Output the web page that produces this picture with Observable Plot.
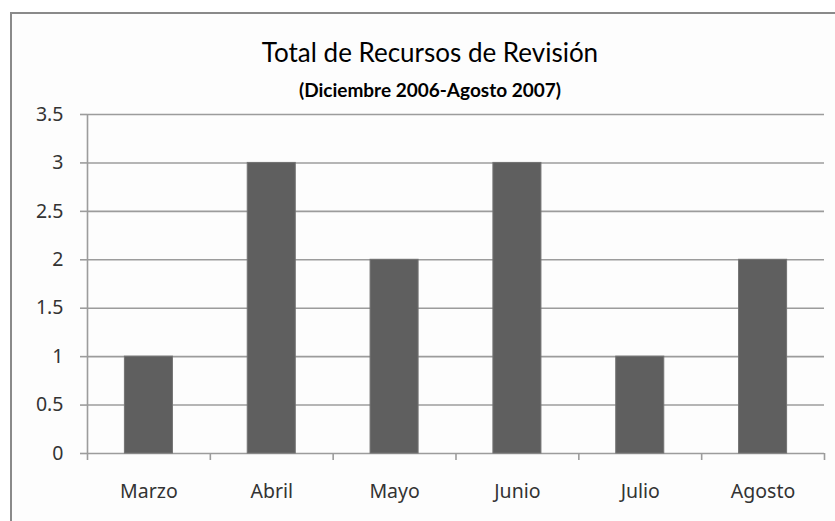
<!DOCTYPE html>
<html>
<head>
<meta charset="utf-8">
<script src="https://cdn.jsdelivr.net/npm/d3@7"></script>
<script src="https://cdn.jsdelivr.net/npm/@observablehq/plot@0.6"></script>
<style>
  html, body { margin: 0; padding: 0; background: #ffffff; width: 835px; height: 521px; overflow: hidden; }
  #wrap { position: relative; width: 835px; height: 521px; }
  #frame { position: absolute; left: 10px; top: 12px; width: 840px; height: 520px;
           border-left: 2px solid #8a8a8a; border-top: 2px solid #8a8a8a; background: #fdfdfd; }
  #chart { position: absolute; left: 0; top: 0; }
  .t { position: absolute; left: 10px; width: 840px; text-align: center; font-family: Lato, "Noto Sans", sans-serif; color: #000; line-height: 1; white-space: nowrap; }
  #title { top: 39px; font-size: 26px; }
  #subtitle { top: 80px; font-size: 19px; font-weight: bold; }
</style>
</head>
<body>
<div id="wrap">
  <div id="frame"></div>
  <div id="chart"></div>
  <div class="t" id="title">Total de Recursos de Revisión</div>
  <div class="t" id="subtitle">(Diciembre 2006-Agosto 2007)</div>
</div>
<script>
const months = ["Marzo", "Abril", "Mayo", "Junio", "Julio", "Agosto"];
const recursos = [1, 3, 2, 3, 1, 2];
const yTicks = [0, 0.5, 1, 1.5, 2, 2.5, 3, 3.5];

const data = months.map((m, i) => ({month: m, i, value: recursos[i]}));
const boundaries = d3.range(months.length + 1);
const centers = months.map((m, i) => i + 0.5);

const chart = Plot.plot({
  width: 835,
  height: 521,
  marginLeft: 87,
  marginRight: 11,
  marginTop: 114,
  marginBottom: 68,
  style: {background: "transparent", fontFamily: "'Noto Sans', sans-serif", color: "#333"},
  x: {type: "linear", domain: [0, months.length]},
  y: {domain: [0, 3.5]},
  marks: [
    Plot.gridY(yTicks, {stroke: "#9c9c9c", strokeOpacity: 1, strokeWidth: 1.6}),
    Plot.axisY(yTicks, {tickSize: 7, tickPadding: 17, stroke: "#9c9c9c", strokeWidth: 1.6, fill: "#333",
      fontSize: 19.5, tickFormat: d => String(d), label: null}),
    Plot.ruleX([0], {stroke: "#9c9c9c", strokeWidth: 1.6}),
    Plot.axisX(boundaries, {tickSize: 7, tickFormat: () => "", stroke: "#9c9c9c", strokeWidth: 1.6, label: null}),
    Plot.axisX(centers, {tickSize: 0, tickPadding: 31, fill: "#333", fontSize: 19.5,
      tickFormat: d => months[Math.floor(d)], label: null}),
    Plot.rectY(data, {x1: "i", x2: d => d.i + 1, y: "value", insetLeft: 37.4, insetRight: 37.4,
      fill: "#5f5f5f", stroke: "#737373", strokeWidth: 1})
  ]
});
document.getElementById("chart").appendChild(chart);
</script>
</body>
</html>
